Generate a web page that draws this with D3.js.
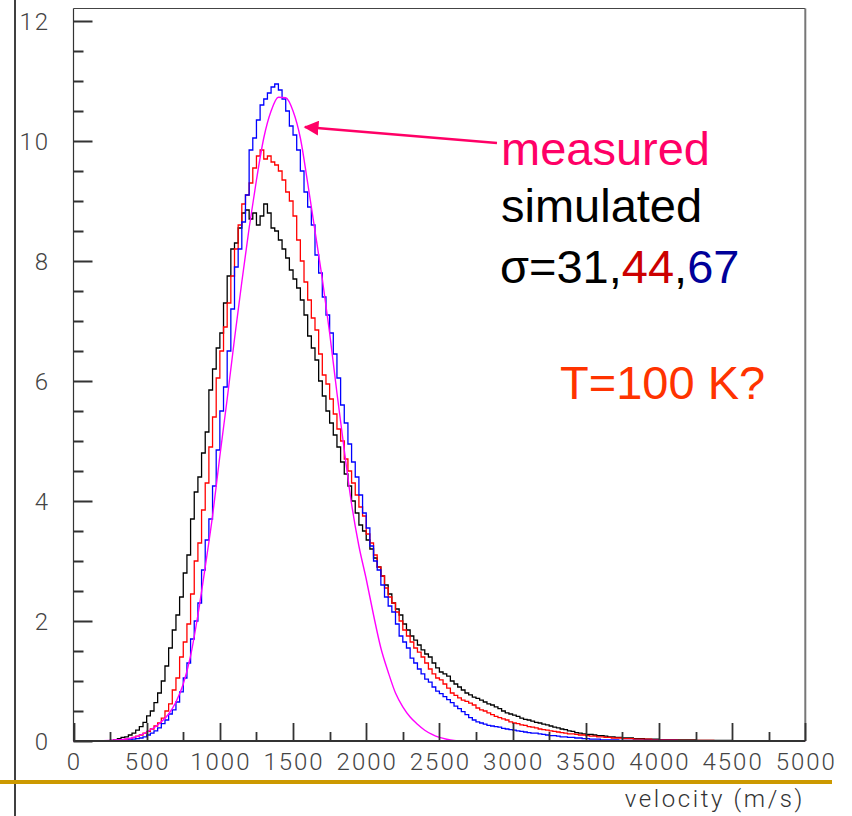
<!DOCTYPE html>
<html>
<head>
<meta charset="utf-8">
<script src="https://cdn.jsdelivr.net/npm/d3@7"></script>
<style>
  body { margin: 0; background: #fff; }
</style>
</head>
<body>
<script>
// Velocity distributions: measured fit vs simulated histograms
var width = 852,
    height = 816;

// histogram bins, 25 m/s wide, 0 - 5000 m/s (one row = 250 m/s)
var binWidth = 25;

// simulated, sigma = 31 (black)
var sim31 = [
  0, 0, 0, 0, 0, 0, 0, 0, 0, 0,
  0.01, 0.02, 0.04, 0.06, 0.07, 0.1, 0.13, 0.18, 0.24, 0.31,
  0.42, 0.5, 0.64, 0.8, 1.0, 1.25, 1.55, 1.85, 2.1, 2.4,
  2.8, 3.1, 3.7, 4.15, 4.4, 4.8, 5.15, 5.85, 6.2, 6.55,
  6.8, 7.3, 7.75, 8.2, 8.3, 8.55, 8.8, 8.85, 8.7, 8.8,
  8.6, 8.75, 8.95, 8.8, 8.55, 8.5, 8.35, 8.2, 8.05, 7.85,
  7.7, 7.55, 7.35, 7.1, 6.75, 6.55, 6.35, 6.0, 5.75, 5.5,
  5.3, 5.1, 4.9, 4.65, 4.45, 4.25, 4.0, 3.8, 3.6, 3.5,
  3.35, 3.2, 3.05, 2.9, 2.75, 2.6, 2.45, 2.3, 2.2, 2.1,
  1.95, 1.85, 1.75, 1.68, 1.6, 1.52, 1.45, 1.4, 1.3, 1.22,
  1.15, 1.12, 1.08, 1.0, 0.95, 0.9, 0.85, 0.8, 0.77, 0.73,
  0.71, 0.68, 0.65, 0.62, 0.6, 0.57, 0.54, 0.5, 0.47, 0.45,
  0.43, 0.41, 0.38, 0.36, 0.35, 0.33, 0.31, 0.3, 0.28, 0.27,
  0.25, 0.23, 0.22, 0.2, 0.19, 0.17, 0.16, 0.14, 0.13, 0.12,
  0.11, 0.11, 0.1, 0.09, 0.09, 0.08, 0.07, 0.07, 0.06, 0.06,
  0.05, 0.05, 0.05, 0.04, 0.04, 0.04, 0.03, 0.03, 0.03, 0.03,
  0.02, 0.02, 0.02, 0.02, 0.02, 0.02, 0.02, 0.02, 0.02, 0.02,
  0.01, 0.01, 0.01, 0.01, 0.01, 0.01, 0.01, 0.01, 0.01, 0.01,
  0, 0, 0, 0, 0, 0, 0, 0, 0, 0,
  0, 0, 0, 0, 0, 0, 0, 0, 0, 0
];

// simulated, sigma = 44 (red)
var sim44 = [
  0, 0, 0, 0, 0, 0, 0, 0, 0, 0,
  0, 0.01, 0.01, 0.02, 0.03, 0.04, 0.06, 0.08, 0.1, 0.13,
  0.16, 0.2, 0.25, 0.3, 0.38, 0.5, 0.62, 0.85, 1.05, 1.4,
  1.65, 1.95, 2.45, 3.0, 3.3, 3.85, 4.3, 4.9, 5.4, 6.05,
  6.5, 6.9, 7.3, 7.75, 8.2, 8.6, 8.95, 9.1, 9.3, 9.55,
  9.75, 9.85, 9.7, 9.75, 9.65, 9.6, 9.5, 9.35, 9.15, 9.0,
  8.75, 8.35, 8.0, 7.65, 7.35, 7.05, 6.85, 6.45, 6.1, 5.95,
  5.7, 5.45, 5.2, 5.0, 4.7, 4.5, 4.3, 4.1, 3.9, 3.75,
  3.45, 3.3, 3.1, 2.9, 2.75, 2.55, 2.4, 2.3, 2.15, 2.0,
  1.85, 1.75, 1.65, 1.55, 1.48, 1.4, 1.3, 1.2, 1.12, 1.05,
  1.02, 0.95, 0.88, 0.8, 0.76, 0.72, 0.68, 0.66, 0.63, 0.6,
  0.55, 0.52, 0.5, 0.47, 0.44, 0.41, 0.39, 0.37, 0.35, 0.32,
  0.3, 0.29, 0.27, 0.26, 0.24, 0.23, 0.22, 0.2, 0.19, 0.18,
  0.17, 0.16, 0.15, 0.14, 0.13, 0.12, 0.12, 0.11, 0.1, 0.1,
  0.09, 0.08, 0.08, 0.07, 0.07, 0.06, 0.06, 0.05, 0.05, 0.05,
  0.04, 0.04, 0.04, 0.03, 0.03, 0.03, 0.03, 0.03, 0.02, 0.02,
  0.02, 0.02, 0.02, 0.02, 0.02, 0.01, 0.01, 0.01, 0.01, 0.01,
  0.01, 0.01, 0.01, 0.01, 0.01, 0, 0, 0, 0, 0,
  0, 0, 0, 0, 0, 0, 0, 0, 0, 0,
  0, 0, 0, 0, 0, 0, 0, 0, 0, 0
];

// simulated, sigma = 67 (blue)
var sim67 = [
  0, 0, 0, 0, 0, 0, 0, 0, 0, 0,
  0, 0, 0, 0.01, 0.01, 0.02, 0.03, 0.04, 0.05, 0.07,
  0.1, 0.13, 0.17, 0.22, 0.29, 0.35, 0.45, 0.52, 0.65, 0.82,
  1.05, 1.3, 1.7, 2.0, 2.3, 2.85, 3.35, 3.7, 4.25, 4.85,
  5.5, 5.9, 6.5, 7.2, 7.9, 8.2, 8.65, 9.1, 9.85, 10.05,
  10.35, 10.6, 10.7, 10.8, 10.9, 10.95, 10.85, 10.7, 10.5, 10.25,
  10.1, 9.85, 9.5, 9.15, 8.9, 8.6, 8.1, 7.8, 7.4, 7.1,
  6.8, 6.45, 6.05, 5.6, 5.3, 4.95, 4.65, 4.4, 4.1, 3.8,
  3.55, 3.25, 3.0, 2.85, 2.6, 2.4, 2.25, 2.15, 1.95, 1.75,
  1.65, 1.55, 1.38, 1.3, 1.2, 1.12, 1.03, 0.98, 0.9, 0.83,
  0.79, 0.74, 0.69, 0.64, 0.58, 0.54, 0.49, 0.44, 0.39, 0.35,
  0.32, 0.3, 0.28, 0.26, 0.25, 0.24, 0.23, 0.21, 0.2, 0.19,
  0.18, 0.17, 0.16, 0.15, 0.14, 0.13, 0.13, 0.12, 0.11, 0.1,
  0.09, 0.09, 0.08, 0.07, 0.07, 0.06, 0.06, 0.05, 0.05, 0.04,
  0.04, 0.03, 0.03, 0.03, 0.02, 0.02, 0.02, 0.02, 0.02, 0.01,
  0.01, 0.01, 0.01, 0.01, 0.01, 0.01, 0.01, 0.01, 0.01, 0.01,
  0.01, 0.01, 0.01, 0.01, 0.01, 0, 0, 0, 0, 0,
  0, 0, 0, 0, 0, 0, 0, 0, 0, 0,
  0, 0, 0, 0, 0, 0, 0, 0, 0, 0,
  0, 0, 0, 0, 0, 0, 0, 0, 0, 0
];

// measured (smooth fit, magenta)
var measuredV = [0, 250, 300, 350, 400, 450, 500, 550, 600, 650, 700, 750, 800, 850,
  900, 950, 1000, 1050, 1100, 1150, 1200, 1250, 1300, 1350, 1400, 1450, 1500,
  1550, 1600, 1650, 1700, 1750, 1800, 1850, 1900, 1950, 2000, 2050, 2100, 2150,
  2200, 2250, 2300, 2350, 2400, 2450, 2500, 2550, 2600, 2650, 5000];
var measuredY = [0, 0.01, 0.02, 0.03, 0.05, 0.09, 0.15, 0.22, 0.32, 0.45, 0.65, 0.95, 1.42, 2.1,
  2.9, 3.75, 4.75, 5.7, 6.7, 7.65, 8.55, 9.35, 10.05, 10.5, 10.73, 10.72, 10.5,
  10.05, 9.3, 8.5, 7.7, 6.8, 5.8, 4.85, 3.95, 3.25, 2.7, 2.1, 1.55, 1.15,
  0.8, 0.57, 0.4, 0.28, 0.18, 0.11, 0.06, 0.03, 0.01, 0, 0];

var xTicks = [0, 500, 1000, 1500, 2000, 2500, 3000, 3500, 4000, 4500, 5000];
var yTicks = [0, 2, 4, 6, 8, 10, 12];

var svg = d3.select("body")
    .append("svg")
    .attr("width", width)
    .attr("height", height);

// plot frame
var frame = { left: 73.5, right: 805.3, top: 8.5, bottom: 741 };

var x = d3.scaleLinear()
    .domain([0, 5000])
    .range([frame.left, frame.right]);

var y = d3.scaleLinear()
    .domain([0, 12])
    .range([frame.bottom, frame.bottom - 720]);

// slide decoration: vertical black rule and golden bar
svg.append("line")
    .attr("x1", 15).attr("x2", 15)
    .attr("y1", 0).attr("y2", height)
    .attr("stroke", "#000")
    .attr("stroke-width", 1.5);

svg.append("line")
    .attr("x1", 0).attr("x2", 832)
    .attr("y1", 782).attr("y2", 782)
    .attr("stroke", "#CC9900")
    .attr("stroke-width", 4);

svg.append("clipPath")
    .attr("id", "clip")
    .append("rect")
    .attr("x", frame.left)
    .attr("y", frame.top)
    .attr("width", frame.right - frame.left)
    .attr("height", frame.bottom - frame.top + 1);

var plot = svg.append("g").attr("clip-path", "url(#clip)");

var centers = d3.range(binWidth / 2, 5000, binWidth);

var hist = d3.line()
    .x(function(d) { return x(d[0]); })
    .y(function(d) { return y(d[1]); })
    .curve(d3.curveStep);

function histPoints(vals) {
    var pts = vals.map(function(v, i) { return [centers[i], v]; });
    pts.unshift([0, vals[0]]);
    pts.push([5000, vals[vals.length - 1]]);
    return pts;
}

[[sim31, "#000000"], [sim44, "#FF0000"], [sim67, "#0000FF"]].forEach(function(s) {
    plot.append("path")
        .datum(histPoints(s[0]))
        .attr("fill", "none")
        .attr("stroke", s[1])
        .attr("stroke-width", 1.3)
        .attr("d", hist);
});

var smooth = d3.line()
    .x(function(d) { return x(d[0]); })
    .y(function(d) { return y(d[1]); })
    .curve(d3.curveMonotoneX);

plot.append("path")
    .datum(measuredV.map(function(v, i) { return [v, measuredY[i]]; }))
    .attr("fill", "none")
    .attr("stroke", "#FF00FF")
    .attr("stroke-width", 1.4)
    .attr("d", smooth);

// frame lines
svg.append("path")
    .attr("d", "M" + frame.left + "," + frame.top + "H" + frame.right)
    .attr("stroke", "#444").attr("stroke-width", 1.2);
svg.append("path")
    .attr("d", "M" + frame.right + "," + frame.top + "V" + frame.bottom)
    .attr("stroke", "#777").attr("stroke-width", 2);
svg.append("path")
    .attr("d", "M" + frame.left + "," + frame.top + "V" + frame.bottom)
    .attr("stroke", "#333").attr("stroke-width", 1.2);
svg.append("path")
    .attr("d", "M" + frame.left + "," + frame.bottom + "H" + frame.right)
    .attr("stroke", "#333").attr("stroke-width", 2);

// ticks: y inward (long every 2, short every 0.5), x upward (long every 500, short every 250)
var yTickPath = d3.path();
d3.range(0, 24.5, 1).forEach(function(i) {
    var yy = Math.round(y(i / 2)) + 0.5;
    yTickPath.moveTo(frame.left, yy);
    yTickPath.lineTo(frame.left + (i % 4 === 0 ? 19 : 10), yy);
});
svg.append("path")
    .attr("d", yTickPath.toString())
    .attr("fill", "none")
    .attr("stroke", "#333")
    .attr("stroke-width", 1.8);

var xTickPath = d3.path();
d3.range(0, 20.5, 1).forEach(function(i) {
    var xx = Math.round(x(i * 250)) + 0.5;
    xTickPath.moveTo(xx, frame.bottom);
    xTickPath.lineTo(xx, frame.bottom - (i % 2 === 0 ? 18 : 9));
});
svg.append("path")
    .attr("d", xTickPath.toString())
    .attr("fill", "none")
    .attr("stroke", "#333")
    .attr("stroke-width", 1.8);

var tickFont = "Roboto, 'Liberation Sans', sans-serif";

svg.append("g").selectAll("text")
    .data(yTicks)
    .enter().append("text")
        .attr("x", 50)
        .attr("y", function(d) { return y(d); })
        .attr("dy", "0.36em")
        .attr("text-anchor", "end")
        .attr("font-family", tickFont)
        .attr("font-weight", 300)
        .attr("font-size", 24)
        .attr("letter-spacing", 2)
        .attr("fill", "#444")
        .text(function(d) { return d; });

svg.append("g").selectAll("text")
    .data(xTicks)
    .enter().append("text")
        .attr("x", function(d) { return x(d) + 1; })
        .attr("y", 770)
        .attr("text-anchor", "middle")
        .attr("font-family", tickFont)
        .attr("font-weight", 300)
        .attr("font-size", 24)
        .attr("letter-spacing", 2)
        .attr("fill", "#444")
        .text(function(d) { return d; });

svg.append("text")
    .attr("x", 805)
    .attr("y", 807)
    .attr("text-anchor", "end")
    .attr("font-family", tickFont)
    .attr("font-weight", 300)
    .attr("font-size", 24)
    .attr("letter-spacing", 2.6)
    .attr("fill", "#333")
    .text("velocity (m/s)");

// annotation arrow pointing at the measured curve
svg.append("defs").append("marker")
    .attr("id", "head")
    .attr("viewBox", "0 0 10 10")
    .attr("refX", 9).attr("refY", 5)
    .attr("markerWidth", 6).attr("markerHeight", 6)
    .attr("markerUnits", "strokeWidth")
    .attr("orient", "auto")
    .append("path")
    .attr("d", "M0,0 L10,5 L0,10 Z")
    .attr("fill", "#FF0066");

svg.append("line")
    .attr("x1", 497).attr("y1", 143)
    .attr("x2", 305).attr("y2", 127)
    .attr("stroke", "#FF0066")
    .attr("stroke-width", 2.5)
    .attr("marker-end", "url(#head)");

var labelFont = "'Liberation Sans', Arial, sans-serif";

function note(xp, yp, parts) {
    var t = svg.append("text")
        .attr("x", xp).attr("y", yp)
        .attr("font-family", labelFont)
        .attr("font-size", 47);
    parts.forEach(function(p) {
        t.append("tspan").attr("fill", p[1]).text(p[0]);
    });
}

note(501, 165, [["measured", "#FF0066"]]);
note(501, 222, [["simulated", "#000"]]);
note(500, 283, [["σ=31,", "#000"], ["44", "#CC0000"], [",", "#000"], ["67", "#000099"]]);
note(560, 399, [["T=100 K?", "#FF3300"]]);
</script>
</body>
</html>
